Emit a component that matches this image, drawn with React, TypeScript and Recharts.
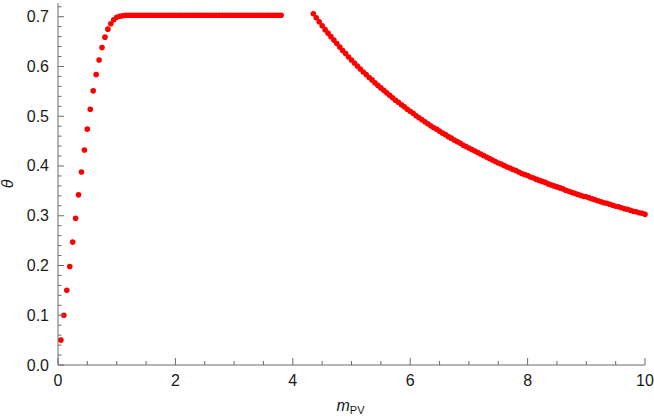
import React from "react";
import { ScatterChart, Scatter, XAxis, YAxis, Label } from "recharts";

// m_PV values (x) and theta values (y)
const mRise = [0.05, 0.1, 0.15, 0.2, 0.25, 0.3, 0.35, 0.4, 0.45, 0.5, 0.55, 0.6, 0.65, 0.7, 0.75, 0.8, 0.85, 0.9, 0.95, 1.0, 1.05, 1.1, 1.15];
const thetaRise = [0.05, 0.1, 0.15, 0.198, 0.247, 0.295, 0.342, 0.388, 0.432, 0.474, 0.514, 0.551, 0.584, 0.613, 0.638, 0.659, 0.675, 0.686, 0.694, 0.699, 0.701, 0.702, 0.703];

const mFlat = [1.2, 1.25, 1.3, 1.35, 1.4, 1.45, 1.5, 1.55, 1.6, 1.65, 1.7, 1.75, 1.8, 1.85, 1.9, 1.95, 2.0, 2.05, 2.1, 2.15, 2.2, 2.25, 2.3, 2.35, 2.4, 2.45, 2.5, 2.55, 2.6, 2.65, 2.7, 2.75, 2.8, 2.85, 2.9, 2.95, 3.0, 3.05, 3.1, 3.15, 3.2, 3.25, 3.3, 3.35, 3.4, 3.45, 3.5, 3.55, 3.6, 3.65, 3.7, 3.75, 3.8];
const thetaFlat = [0.703, 0.703, 0.703, 0.703, 0.703, 0.703, 0.703, 0.703, 0.703, 0.703, 0.703, 0.703, 0.703, 0.703, 0.703, 0.703, 0.703, 0.703, 0.703, 0.703, 0.703, 0.703, 0.703, 0.703, 0.703, 0.703, 0.703, 0.703, 0.703, 0.703, 0.703, 0.703, 0.703, 0.703, 0.703, 0.703, 0.703, 0.703, 0.703, 0.703, 0.703, 0.703, 0.703, 0.703, 0.703, 0.703, 0.703, 0.703, 0.703, 0.703, 0.703, 0.703, 0.703];

const mFall = [4.35, 4.4, 4.45, 4.5, 4.55, 4.6, 4.65, 4.7, 4.75, 4.8, 4.85, 4.9, 4.95, 5.0, 5.05, 5.1, 5.15, 5.2, 5.25, 5.3, 5.35, 5.4, 5.45, 5.5, 5.55, 5.6, 5.65, 5.7, 5.75, 5.8, 5.85, 5.9, 5.95, 6.0, 6.05, 6.1, 6.15, 6.2, 6.25, 6.3, 6.35, 6.4, 6.45, 6.5, 6.55, 6.6, 6.65, 6.7, 6.75, 6.8, 6.85, 6.9, 6.95, 7.0, 7.05, 7.1, 7.15, 7.2, 7.25, 7.3, 7.35, 7.4, 7.45, 7.5, 7.55, 7.6, 7.65, 7.7, 7.75, 7.8, 7.85, 7.9, 7.95, 8.0, 8.05, 8.1, 8.15, 8.2, 8.25, 8.3, 8.35, 8.4, 8.45, 8.5, 8.55, 8.6, 8.65, 8.7, 8.75, 8.8, 8.85, 8.9, 8.95, 9.0, 9.05, 9.1, 9.15, 9.2, 9.25, 9.3, 9.35, 9.4, 9.45, 9.5, 9.55, 9.6, 9.65, 9.7, 9.75, 9.8, 9.85, 9.9, 9.95, 10.0];
const thetaFall = [0.706, 0.698, 0.690, 0.682, 0.674, 0.667, 0.660, 0.653, 0.646, 0.639, 0.632, 0.626, 0.619, 0.613, 0.607, 0.601, 0.595, 0.589, 0.584, 0.578, 0.573, 0.567, 0.562, 0.557, 0.552, 0.547, 0.542, 0.537, 0.532, 0.528, 0.523, 0.519, 0.514, 0.510, 0.506, 0.501, 0.497, 0.493, 0.489, 0.485, 0.481, 0.477, 0.474, 0.470, 0.466, 0.463, 0.459, 0.456, 0.452, 0.449, 0.446, 0.442, 0.439, 0.436, 0.433, 0.430, 0.427, 0.424, 0.421, 0.418, 0.415, 0.412, 0.409, 0.406, 0.404, 0.401, 0.398, 0.396, 0.393, 0.391, 0.388, 0.385, 0.383, 0.381, 0.378, 0.376, 0.373, 0.371, 0.369, 0.367, 0.364, 0.362, 0.360, 0.358, 0.356, 0.354, 0.351, 0.349, 0.347, 0.345, 0.343, 0.341, 0.339, 0.338, 0.336, 0.334, 0.332, 0.330, 0.328, 0.326, 0.325, 0.323, 0.321, 0.319, 0.318, 0.316, 0.314, 0.313, 0.311, 0.309, 0.308, 0.306, 0.305, 0.303];

const xTicks = [0, 0.5, 1, 1.5, 2, 2.5, 3, 3.5, 4, 4.5, 5, 5.5, 6, 6.5, 7, 7.5, 8, 8.5, 9, 9.5, 10];
const xMajor = [0, 2, 4, 6, 8, 10];
const yTicks = [0, 0.02, 0.04, 0.06, 0.08, 0.1, 0.12, 0.14, 0.16, 0.18, 0.2, 0.22, 0.24, 0.26, 0.28, 0.3, 0.32, 0.34, 0.36, 0.38, 0.4, 0.42, 0.44, 0.46, 0.48, 0.5, 0.52, 0.54, 0.56, 0.58, 0.6, 0.62, 0.64, 0.66, 0.68, 0.7, 0.72];
const yMajor = [0, 0.1, 0.2, 0.3, 0.4, 0.5, 0.6, 0.7];

const mAll = [...mRise, ...mFlat, ...mFall];
const thetaAll = [...thetaRise, ...thetaFlat, ...thetaFall];
const points = mAll.map((m, i) => ({ x: m, y: thetaAll[i] }));

const FRAME = "#6a6a6a";
const TEXT = "#1a1a1a";
const FONT = "'Liberation Sans', Arial, sans-serif";

const isMajor = (v: number, list: number[]) => list.some((t) => Math.abs(t - v) < 1e-9);

const BottomTick = (props: any) => {
  const { x, y, payload } = props;
  const v = payload.value;
  const major = isMajor(v, xMajor);
  return (
    <g>
      <line x1={x} x2={x} y1={y} y2={y - (major ? 7 : 4)} stroke={FRAME} strokeWidth={1} />
      {major && (
        <text x={x} y={y + 21} textAnchor="middle" fontSize={16} fill={TEXT} fontFamily={FONT}>
          {String(v)}
        </text>
      )}
    </g>
  );
};

const TopTick = (props: any) => {
  const { x, y, payload } = props;
  const major = isMajor(payload.value, xMajor);
  return <line x1={x} x2={x} y1={y} y2={y + (major ? 7 : 4)} stroke={FRAME} strokeWidth={1} />;
};

const LeftTick = (props: any) => {
  const { x, y, payload } = props;
  const v = payload.value;
  const major = isMajor(v, yMajor);
  return (
    <g>
      <line x1={x} x2={x + (major ? 6 : 3.5)} y1={y} y2={y} stroke={FRAME} strokeWidth={1} />
      {major && (
        <text x={x - 9} y={y + 5.5} textAnchor="end" fontSize={16} fill={TEXT} fontFamily={FONT}>
          {v.toFixed(1)}
        </text>
      )}
    </g>
  );
};

const RightTick = (props: any) => {
  const { x, y, payload } = props;
  const major = isMajor(payload.value, yMajor);
  return <line x1={x} x2={x - (major ? 6 : 3.5)} y1={y} y2={y} stroke={FRAME} strokeWidth={1} />;
};

const Dot = (props: any) => <circle cx={props.cx} cy={props.cy} r={2.8} fill="#ff0000" />;
const NoDot = () => <g />;

const XLabel = (props: any) => {
  const vb = props.viewBox || { x: 58, y: 365, width: 587, height: 54 };
  const cx = vb.x + vb.width / 2;
  return (
    <text x={cx - 15} y={vb.y + 46} fontSize={16} fill={TEXT} fontFamily={FONT}>
      <tspan fontStyle="italic">m</tspan>
      <tspan fontSize={11} dy={3}>PV</tspan>
    </text>
  );
};

const YLabel = (props: any) => {
  const vb = props.viewBox || { x: 0, y: 3, width: 58, height: 362 };
  const cy = vb.y + vb.height / 2;
  return (
    <text
      x={13}
      y={cy}
      transform={`rotate(-90 13 ${cy})`}
      textAnchor="middle"
      fontSize={16}
      fontStyle="italic"
      fill={TEXT}
      fontFamily={FONT}
    >
      θ
    </text>
  );
};

export default function App() {
  return (
    <div style={{ position: "absolute", left: 0, top: 0, width: 654, height: 419, background: "#fff" }}>
      <ScatterChart width={654} height={419} margin={{ top: 3, right: 9, bottom: 0, left: 0 }}>
        <XAxis
          xAxisId="b"
          dataKey="x"
          type="number"
          domain={[0, 10]}
          ticks={xTicks}
          interval={0}
          tickSize={0}
          tickMargin={0}
          tickLine={false}
          tick={<BottomTick />}
          height={54}
          axisLine={{ stroke: FRAME }}
        >
          <Label content={<XLabel />} />
        </XAxis>
        <XAxis
          xAxisId="t"
          orientation="top"
          dataKey="x"
          type="number"
          domain={[0, 10]}
          ticks={xTicks}
          interval={0}
          tickSize={0}
          tickMargin={0}
          tickLine={false}
          tick={<TopTick />}
          height={0}
          axisLine={{ stroke: FRAME }}
        />
        <YAxis
          yAxisId="l"
          dataKey="y"
          type="number"
          domain={[0, 0.7276]}
          allowDataOverflow
          ticks={yTicks}
          interval={0}
          tickSize={0}
          tickMargin={0}
          tickLine={false}
          tick={<LeftTick />}
          width={58}
          axisLine={{ stroke: FRAME }}
        >
          <Label content={<YLabel />} />
        </YAxis>
        <YAxis
          yAxisId="r"
          orientation="right"
          dataKey="y"
          type="number"
          domain={[0, 0.7276]}
          allowDataOverflow
          ticks={yTicks}
          interval={0}
          tickSize={0}
          tickMargin={0}
          tickLine={false}
          tick={<RightTick />}
          width={0}
          axisLine={{ stroke: FRAME }}
        />
        <Scatter xAxisId="t" yAxisId="r" data={points} shape={<NoDot />} isAnimationActive={false} />
        <Scatter xAxisId="b" yAxisId="l" data={points} shape={<Dot />} isAnimationActive={false} />
      </ScatterChart>
    </div>
  );
}
